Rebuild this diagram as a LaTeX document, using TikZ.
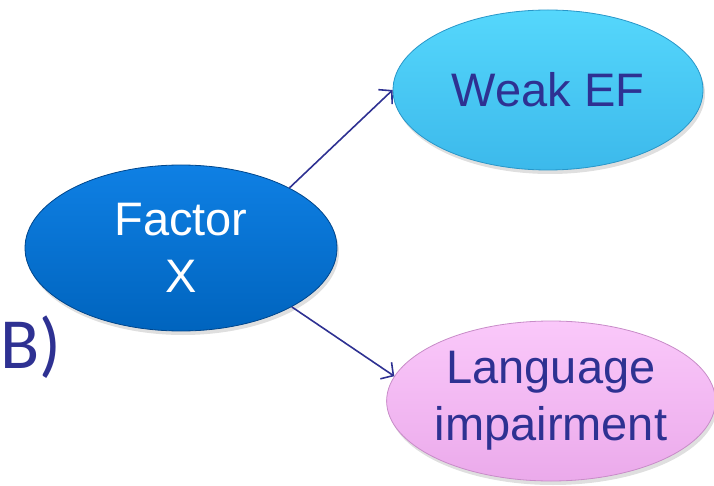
\documentclass[tikz,border=0pt]{standalone}
\usepackage{fontspec}
\setmainfont{Liberation Sans}
\newfontfamily\calib{Carlito}
\usetikzlibrary{arrows.meta,shapes.geometric,shadows}
\definecolor{txtblue}{RGB}{46,49,146}
\definecolor{fxtop}{RGB}{15,128,228}
\definecolor{fxbot}{RGB}{0,100,190}
\definecolor{fxline}{RGB}{0,70,140}
\definecolor{wetop}{RGB}{85,215,252}
\definecolor{webot}{RGB}{60,185,235}
\definecolor{weline}{RGB}{40,150,200}
\definecolor{litop}{RGB}{250,200,250}
\definecolor{libot}{RGB}{235,170,235}
\definecolor{liline}{RGB}{200,140,200}
\tikzset{
  blob/.style={ellipse, inner sep=0pt, minimum width=312pt, minimum height=166pt,
    align=center, font=\fontsize{47}{57}\selectfont, line width=0.8pt,
    drop shadow={shadow xshift=2pt, shadow yshift=-4pt, opacity=0.25}},
  conn/.style={draw=txtblue, line width=1.6pt, -{Straight Barb[length=9pt,width=20pt,line width=1.6pt]}}
}
\begin{document}
\begin{tikzpicture}[x=1pt,y=1pt]
\useasboundingbox (0,0) rectangle (714,485);
\node[blob, top color=fxtop, bottom color=fxbot, draw=fxline, text=white] (fx) at (181,237) {Factor\\X};
\node[blob, top color=wetop, bottom color=webot, draw=weline, text=txtblue, minimum width=310pt, minimum height=160pt] (we) at (548,395) {Weak EF};
\node[blob, top color=litop, bottom color=libot, draw=liline, text=txtblue, minimum width=310pt, minimum height=160pt] (li) at (551,84) {Language\\impairment};
\node[anchor=base west, inner sep=0pt, text=txtblue, font=\calib\fontsize{72}{84}\selectfont] (lab) at (0,117) {B)};
\draw[conn] (fx.29) -- (we.west);
\draw[conn] (fx.-28) -- (li.171);
\end{tikzpicture}
\end{document}
